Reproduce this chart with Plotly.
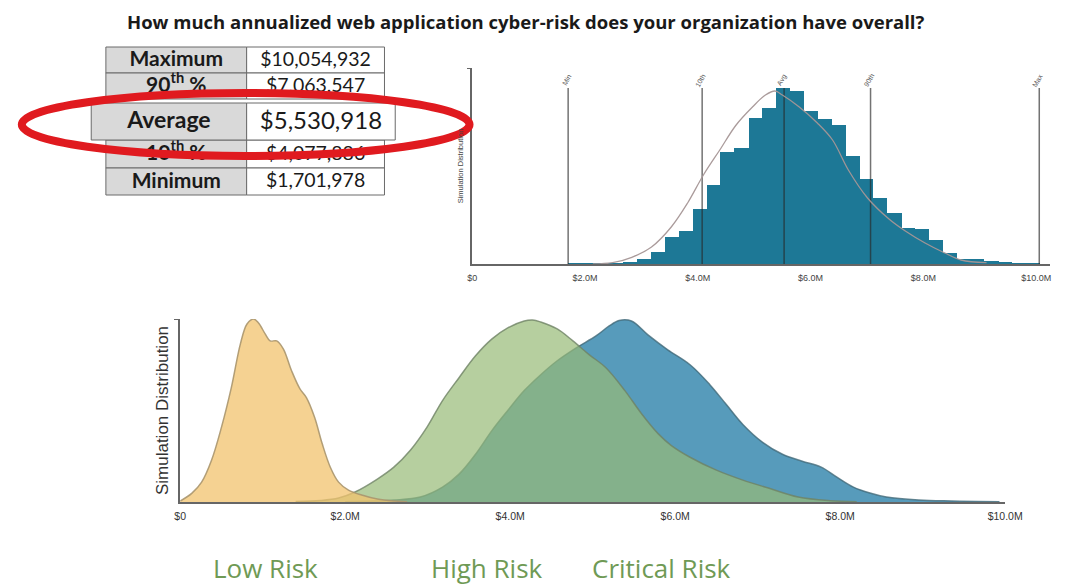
import plotly.graph_objects as go

# ---------------- DATA ----------------
title_text = "How much annualized web application cyber-risk does your organization have overall?"

table_labels = ["Maximum", "90<sup>th</sup> %", "Average", "10<sup>th</sup> %", "Minimum"]
table_values = ["$10,054,932", "$7,063,547", "$5,530,918", "$4,077,886", "$1,701,978"]

# top histogram (values in $M, heights relative)
hist_centers = [1.82, 2.07, 2.32, 2.56, 2.81, 3.05, 3.30, 3.54, 3.79, 4.04, 4.29, 4.53,
                4.78, 5.03, 5.27, 5.52, 5.76, 6.01, 6.26, 6.50, 6.75, 6.99, 7.24, 7.49,
                7.73, 7.98, 8.22, 8.47, 8.72, 8.96, 9.21, 9.45, 9.70, 9.95]
hist_heights = [0.2, 0.3, 0.5, 0.7, 2.3, 5, 12.3, 27, 33, 55, 79, 112,
                116, 146, 156, 176, 173, 153, 145, 139, 108, 85, 66, 51,
                36, 35, 24, 11, 5, 4.7, 2.7, 1.7, 1, 0.5]
hist_bin_width = 0.252

fit_x = [2.14, 2.49, 2.83, 3.18, 3.53, 3.82, 4.10, 4.39, 4.68, 4.97, 5.20, 5.37,
         5.50, 5.80, 6.12, 6.39, 6.67, 7.01, 7.39, 7.68, 8.03, 8.38, 8.67, 9.12]
fit_y = [0, 1.3, 6.7, 17, 37, 61, 89, 114, 139, 157, 169, 173,
         169, 157, 141, 124, 94, 66, 45, 33, 21, 11, 4, 1.3]

marker_names = ["Min", "10th", "Avg", "90th", "Max"]
marker_values = [1.701978, 4.077886, 5.530918, 7.063547, 10.054932]

# bottom density curves (values in $M, heights relative)
low_x = [0.0, 0.14, 0.26, 0.38, 0.50, 0.62, 0.73, 0.81, 0.89, 0.95, 1.03, 1.09, 1.17,
         1.25, 1.35, 1.45, 1.53, 1.63, 1.72, 1.82, 1.92, 2.04, 2.20, 2.39, 2.60, 2.75]
low_y = [1, 8.7, 20, 42, 75, 115, 159, 179, 184, 180, 169, 162, 162,
         154, 132, 114, 105, 85, 59, 35, 20, 12, 7, 3, 1, 0.3]

high_x = [1.4, 1.7, 1.92, 2.12, 2.39, 2.59, 2.79, 2.99, 3.18, 3.38, 3.58, 3.78, 3.97,
          4.17, 4.27, 4.37, 4.57, 4.76, 4.96, 5.16, 5.39, 5.59, 5.79, 5.95, 6.18,
          6.50, 6.82, 7.13, 7.49, 7.88, 8.2]
high_y = [0.5, 1.5, 4, 10, 23, 35, 52, 75, 102, 125, 147, 164, 175,
          182, 183, 181, 174, 162, 148, 135, 112, 89, 69, 57, 45,
          32, 22, 14, 5, 1.3, 0.3]

crit_x = [2.0, 2.3, 2.59, 2.91, 3.18, 3.38, 3.58, 3.78, 3.97, 4.17, 4.37, 4.57, 4.80,
          5.04, 5.20, 5.32, 5.47, 5.67, 5.91, 6.18, 6.42, 6.62, 6.82, 7.06, 7.30,
          7.54, 7.77, 7.96, 8.16, 8.36, 8.56, 8.95, 9.35, 9.93]
crit_y = [0.3, 1, 2, 5, 15, 28, 48, 72, 92, 112, 128, 142, 155,
          167, 177, 182.5, 182, 168, 153, 138, 118, 98, 78, 60, 48,
          41, 35, 25, 15, 9, 5, 2, 1, 0.3]

risk_labels = ["Low Risk", "High Risk", "Critical Risk"]

tick_vals = [0, 2, 4, 6, 8, 10]
tick_text = ["$0", "$2.0M", "$4.0M", "$6.0M", "$8.0M", "$10.0M"]

# ---------------- FIGURE ----------------
OFF = 8                      # page body margin
W, H = 1075 - OFF, 587 - OFF


def px_x(p):
    return (p - OFF) / W


def px_y(p):
    return 1 - (p - OFF) / H


fig = go.Figure()

# bottom chart: density curves
fig.add_trace(go.Scatter(x=crit_x, y=crit_y, mode="lines", line=dict(shape="spline", color="rgba(65,105,120,0.8)", width=1.5),
                         fill="tozeroy", fillcolor="rgba(45,130,170,0.8)", xaxis="x", yaxis="y", hoverinfo="skip"))
fig.add_trace(go.Scatter(x=high_x, y=high_y, mode="lines", line=dict(shape="spline", color="rgba(110,130,100,0.8)", width=1.5),
                         fill="tozeroy", fillcolor="rgba(151,186,118,0.7)", xaxis="x", yaxis="y", hoverinfo="skip"))
fig.add_trace(go.Scatter(x=low_x, y=low_y, mode="lines", line=dict(shape="spline", color="rgba(170,150,110,0.9)", width=1.5),
                         fill="tozeroy", fillcolor="rgba(242,195,110,0.75)", xaxis="x", yaxis="y", hoverinfo="skip"))

# top histogram
fig.add_trace(go.Bar(x=hist_centers, y=hist_heights, width=[hist_bin_width] * len(hist_centers),
                     marker=dict(color="#1d7896", line=dict(width=0)), xaxis="x2", yaxis="y2", hoverinfo="skip"))
line_top = max(hist_heights)
for v in marker_values:
    fig.add_trace(go.Scatter(x=[v, v], y=[0, line_top], mode="lines",
                             line=dict(color="rgba(40,40,40,0.65)", width=1.5),
                             xaxis="x2", yaxis="y2", hoverinfo="skip"))
fig.add_trace(go.Scatter(x=fit_x, y=fit_y, mode="lines", line=dict(shape="spline", color="rgba(165,150,150,0.95)", width=1.3),
                         xaxis="x2", yaxis="y2", hoverinfo="skip"))

for name, v in zip(marker_names, marker_values):
    fig.add_annotation(x=v, y=line_top, xref="x2", yref="y2", text=name, showarrow=False,
                       textangle=-60, xshift=-2, yshift=8, xanchor="center", yanchor="middle",
                       font=dict(family="Arial", size=7, color="#555"))

# ---------------- TABLE (overlay axes in pixel units) ----------------
row_top = [47, 73, 103, 140, 168]
row_bot = [73, 99, 140, 168, 195]
row_left = [102, 102, 87, 102, 102]
row_right = [387, 387, 398, 387, 387]
divider = 246
label_size = [21, 21, 23, 21, 21]
value_size = [19.5, 19.5, 24, 19.5, 19.5]
draw_order = [0, 1, 3, 4, 2]

shapes = []
for i in draw_order:
    shapes.append(dict(type="rect", xref="x3", yref="y3", x0=row_left[i], x1=divider, y0=row_top[i], y1=row_bot[i],
                       fillcolor="#d9d9d9", line=dict(color="#6a6a6a", width=1), layer="below"))
    shapes.append(dict(type="rect", xref="x3", yref="y3", x0=divider, x1=row_right[i], y0=row_top[i], y1=row_bot[i],
                       fillcolor="#ffffff", line=dict(color="#6a6a6a", width=1), layer="below"))

lab_x = [(row_left[i] + divider) / 2 for i in range(5)]
val_x = [(divider + row_right[i]) / 2 for i in range(5)]
row_y = [(row_top[i] + row_bot[i]) / 2 + 1 for i in range(5)]

fig.add_trace(go.Scatter(x=lab_x, y=row_y, mode="text", text=["<b>" + t + "</b>" for t in table_labels],
                         textfont=dict(family="Lato", size=label_size, color="#1a1a1a"),
                         xaxis="x3", yaxis="y3", hoverinfo="skip"))
fig.add_trace(go.Scatter(x=val_x, y=row_y, mode="text", text=table_values,
                         textfont=dict(family="Lato", size=value_size, color="#1a1a1a"),
                         xaxis="x3", yaxis="y3", hoverinfo="skip"))

# red ellipse highlight
shapes.append(dict(type="circle", xref="x3", yref="y3", x0=16, x1=474, y0=93, y1=156,
                   line=dict(color="#e01a1f", width=8), layer="above"))

# ---------------- TEXT ----------------
fig.add_annotation(x=px_x(531), y=1, xref="paper", yref="paper", text="<b>" + title_text + "</b>",
                   showarrow=False, xanchor="center", yanchor="top", borderpad=0,
                   font=dict(family="Open Sans", size=18.5, color="#1a1a1a"))

risk_x = [265, 492, 670]
for t, xp in zip(risk_labels, risk_x):
    fig.add_annotation(x=px_x(xp), y=px_y(568), xref="paper", yref="paper", text=t, showarrow=False,
                       xanchor="center", yanchor="middle",
                       font=dict(family="Open Sans", size=26, color="#6f9a55"))

axis_common = dict(showgrid=False, zeroline=False, showline=True, linecolor="#666", linewidth=1.5)

fig.update_layout(
    width=W, height=H,
    margin=dict(l=0, r=0, t=0, b=0),
    paper_bgcolor="white", plot_bgcolor="rgba(0,0,0,0)",
    showlegend=False, bargap=0,
    shapes=shapes,
    xaxis=dict(domain=[px_x(178), px_x(1022)], range=[0, 10], anchor="y",
               tickvals=tick_vals, ticktext=tick_text, ticks="", ticklen=0, ticklabelstandoff=4,
               tickfont=dict(family="Arial", size=10.5, color="#333"), **axis_common),
    yaxis=dict(domain=[px_y(502), px_y(319)], range=[0, 184], anchor="x",
               showticklabels=False, tickvals=[184], ticks="outside", ticklen=4, tickcolor="#666",
               title=dict(text="Simulation Distribution", standoff=1,
                          font=dict(family="Arial", size=17, color="#333")), **axis_common),
    xaxis2=dict(domain=[px_x(476.7), px_x(1068)], range=[0, 10.248], anchor="y2",
                tickvals=tick_vals, ticktext=tick_text, ticks="", ticklen=0, ticklabelstandoff=4,
                tickfont=dict(family="Arial", size=9, color="#444"), **axis_common),
    yaxis2=dict(domain=[px_y(264), px_y(68)], range=[0, 196], anchor="x2",
                showticklabels=False, tickvals=[196], ticks="outside", ticklen=3, tickcolor="#666",
                title=dict(text="Simulation Distribution", standoff=3,
                           font=dict(family="Arial", size=7.5, color="#444")), **axis_common),
    xaxis3=dict(domain=[0, 1], range=[OFF, 1075], anchor="y3", visible=False, fixedrange=True),
    yaxis3=dict(domain=[0, 1], range=[587, OFF], anchor="x3", visible=False, fixedrange=True),
)

fig.write_html("out.html")
